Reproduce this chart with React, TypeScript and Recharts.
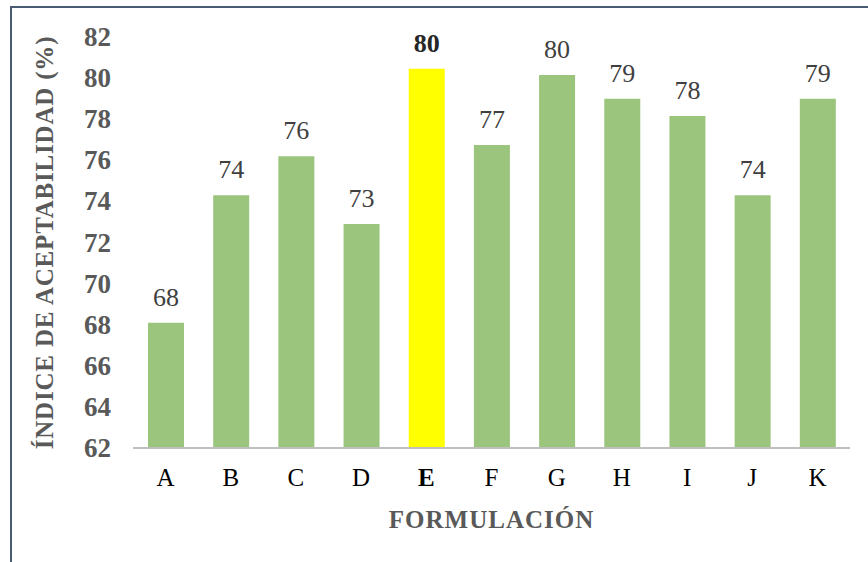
import React from 'react';
import { BarChart, Bar, XAxis, YAxis, Cell, LabelList } from 'recharts';

const categories = ['A', 'B', 'C', 'D', 'E', 'F', 'G', 'H', 'I', 'J', 'K'];
const acceptability = [68.1, 74.3, 76.2, 72.9, 80.45, 76.75, 80.15, 79.0, 78.15, 74.3, 79.0];
const yTicks = [62, 64, 66, 68, 70, 72, 74, 76, 78, 80, 82];
const highlighted = 'E';

const data = categories.map((name, i) => ({ name, value: acceptability[i] }));

const FONT = "'Liberation Serif', 'Times New Roman', serif";
const GREEN = '#9BC47D';
const YELLOW = '#FFFF00';

const XTick = (props: any) => {
  const { x, y, payload } = props;
  const bold = payload.value === highlighted;
  return (
    <text x={x} y={y} dy={16} textAnchor="middle" style={{ fontFamily: FONT }} fontSize={25}
      fontWeight={bold ? 'bold' : 'normal'} fill="#000000">
      {payload.value}
    </text>
  );
};

const YTick = (props: any) => {
  const { x, y, payload } = props;
  return (
    <text x={x} y={y} dy={9} textAnchor="end" style={{ fontFamily: FONT }} fontSize={27}
      fontWeight="bold" fill="#595959">
      {payload.value}
    </text>
  );
};

const BarLabel = (props: any) => {
  const { x, y, width, value, index } = props;
  const bold = categories[index] === highlighted;
  return (
    <text x={x + width / 2} y={y - 17} textAnchor="middle" style={{ fontFamily: FONT }} fontSize={26}
      fontWeight={bold ? 'bold' : 'normal'} fill={bold ? '#262626' : '#404040'}>
      {Math.round(value)}
    </text>
  );
};

const YTitle = (props: any) => {
  const vb = props.viewBox;
  const x = vb.x - 20;
  const y = vb.y + vb.height / 2;
  return (
    <text x={x} y={y} transform={`rotate(-90, ${x}, ${y})`} textAnchor="middle"
      style={{ fontFamily: FONT }} fontSize={25} fontWeight="bold" fill="#595959" letterSpacing={0.8}>
      ÍNDICE DE ACEPTABILIDAD (%)
    </text>
  );
};

const XTitle = (props: any) => {
  const vb = props.viewBox;
  const x = vb.x + vb.width / 2;
  const y = vb.y + 80;
  return (
    <text x={x} y={y} textAnchor="middle" style={{ fontFamily: FONT }} fontSize={25}
      fontWeight="bold" fill="#595959" letterSpacing={1}>
      FORMULACIÓN
    </text>
  );
};

export default function App() {
  return (
    <div style={{ position: 'absolute', left: 0, top: 0, width: 868, height: 562, overflow: 'hidden', background: '#ffffff' }}>
      <div style={{ position: 'absolute', left: 10, top: 6, width: 900, height: 600, border: '2px solid #4A5A72', boxSizing: 'border-box' }} />
      <div style={{ position: 'absolute', left: 0, top: 0 }}>
        <BarChart width={868} height={562} data={data}
          margin={{ top: 37, right: 18, left: 73, bottom: 74 }}>
          <XAxis dataKey="name" interval={0} height={40} tickLine={false} tickSize={0} tickMargin={22}
            axisLine={{ stroke: '#BFBFBF', strokeWidth: 2 }} tick={<XTick />}
            label={<XTitle />} />
          <YAxis type="number" domain={[62, 82]} ticks={yTicks} width={60} axisLine={false}
            tickLine={false} tickSize={0} tickMargin={22} allowDataOverflow
            tick={<YTick />}
            label={<YTitle />} />
          <Bar dataKey="value" barSize={36} isAnimationActive={false}>
            {data.map((d) => (
              <Cell key={d.name} fill={d.name === highlighted ? YELLOW : GREEN} />
            ))}
            <LabelList dataKey="value" content={<BarLabel />} />
          </Bar>
        </BarChart>
      </div>
    </div>
  );
}
